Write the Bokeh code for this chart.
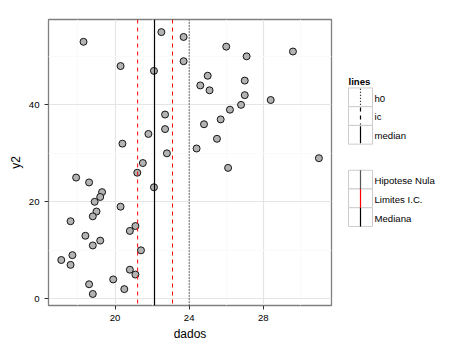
import numpy as np
from bokeh.plotting import figure
from bokeh.models import Range1d, FixedTicker, Span, ColumnDataSource
from bokeh.layouts import row
from bokeh.embed import file_html
from bokeh.resources import INLINE
from bokeh.core.properties import value

# ---------------- data ----------------
dados = [18.3, 22.5, 23.7, 23.7, 20.3, 22.1, 22.7, 22.7, 21.8, 20.4,
         22.8, 26.0, 27.1, 29.6, 25.0, 24.6, 25.1, 27.0, 27.0, 28.4,
         26.8, 26.2, 25.7, 24.8, 25.5, 24.4, 31.0, 26.1, 21.5, 21.2,
         17.9, 18.6, 22.1, 19.3, 19.2, 18.9, 20.3, 19.0, 18.8, 17.6,
         21.1, 20.8, 18.4, 19.2, 18.8, 21.4, 17.7, 17.1, 17.6, 20.8,
         21.1, 19.9, 18.6, 20.5, 18.8]
y2 = [53, 55, 54, 49, 48, 47, 38, 35, 34, 32,
      30, 52, 50, 51, 46, 44, 43, 45, 42, 41,
      40, 39, 37, 36, 33, 31, 29, 27, 28, 26,
      25, 24, 23, 22, 21, 20, 19, 18, 17, 16,
      15, 14, 13, 12, 11, 10, 9, 8, 7, 6,
      5, 4, 3, 2, 1]

median_value = 22.13
ic_values = [21.22, 23.10]
h0_value = 24.0

x_ticks = [20, 24, 28]
x_minor = [18, 22, 26, 30]
y_ticks = [0, 20, 40]
y_minor = [10, 30, 50]
x_label = "dados"
y_label = "y2"

legend1_title = "lines"
legend1_labels = ["h0", "ic", "median"]
legend2_labels = ["Hipotese Nula", "Limites I.C.", "Mediana"]

FONT = "Liberation Sans"

# ---------------- main plot ----------------
p = figure(width=333, height=351,
           x_range=Range1d(16.41, 31.68), y_range=Range1d(-1.38, 57.6),
           output_backend="svg", toolbar_location=None,
           min_border_left=48, min_border_right=2,
           min_border_top=19, min_border_bottom=46,
           background_fill_color="white", border_fill_color="white",
           outline_line_color="#7f7f7f", outline_line_width=1.3)

p.xaxis.ticker = FixedTicker(ticks=x_ticks, minor_ticks=x_minor)
p.yaxis.ticker = FixedTicker(ticks=y_ticks, minor_ticks=y_minor)

for g in (p.xgrid, p.ygrid):
    g.grid_line_color = "#e5e5e5"
    g.grid_line_width = 1.2
    g.minor_grid_line_color = "#fafafa"
    g.minor_grid_line_width = 1

for ax in (p.xaxis, p.yaxis):
    ax.axis_line_color = None
    ax.minor_tick_line_color = None
    ax.major_tick_line_color = "#333333"
    ax.major_tick_in = 0
    ax.major_tick_out = 4
    ax.major_label_standoff = 5
    ax.major_label_text_font = FONT
    ax.major_label_text_font_size = "9.6px"
    ax.major_label_text_color = "black"
    ax.axis_label_text_font = FONT
    ax.axis_label_text_font_size = "12px"
    ax.axis_label_text_font_style = "normal"
    ax.axis_label_text_color = "black"
    ax.axis_label_standoff = 3

p.xaxis.axis_label = x_label
p.yaxis.axis_label = y_label

p.add_layout(Span(location=h0_value, dimension="height", line_color="black",
                  line_dash="1 2", line_width=1))
for v in ic_values:
    p.add_layout(Span(location=v, dimension="height", line_color="red",
                      line_dash="4 4", line_width=1))
p.add_layout(Span(location=median_value, dimension="height", line_color="black",
                  line_width=1.2))

src = ColumnDataSource(dict(x=dados, y=y2))
p.scatter("x", "y", source=src, size=7, fill_color="#b3b3b3",
          line_color="black", line_width=0.9)

# ---------------- legends (separate panel) ----------------
L = figure(width=143, height=351, x_range=Range1d(0, 143), y_range=Range1d(351, 0),
           output_backend="svg", toolbar_location=None,
           x_axis_type=None, y_axis_type=None,
           min_border=0, outline_line_color=None,
           background_fill_color="white", border_fill_color="white")
L.xgrid.visible = False
L.ygrid.visible = False

key_x = 27
key_w = 24
key_h = 23
label_x = 41

# legend 1
top1 = 84
rows1 = [top1 + key_h * i for i in range(3)]
L.text(x=[15], y=[76.5], text=[legend1_title], text_font=value(FONT),
       text_font_size="9.6px", text_font_style="bold", text_baseline="middle",
       text_align="left", text_color="black")
L.rect(x=[key_x] * 3, y=[r + key_h / 2 for r in rows1], width=key_w, height=key_h,
       fill_color="white", line_color="#cccccc", line_width=1)
styles1 = [("1 2", "black"), ("4 4", "black"), ("solid", "black")]
for r, (dash, col) in zip(rows1, styles1):
    L.segment(x0=[key_x], y0=[r + 1], x1=[key_x], y1=[r + key_h - 1],
              line_color=col, line_dash=dash, line_width=1.2)
L.text(x=[label_x] * 3, y=[r + key_h / 2 + 1 for r in rows1], text=legend1_labels,
       text_font=value(FONT), text_font_size="9.6px", text_baseline="middle",
       text_align="left", text_color="black")

# legend 2
top2 = 185
rows2 = [top2 + key_h * i for i in range(3)]
L.rect(x=[key_x] * 3, y=[r + key_h / 2 for r in rows2], width=key_w, height=key_h,
       fill_color="white", line_color="#cccccc", line_width=1)
cols2 = ["#555555", "red", "black"]
for r, col in zip(rows2, cols2):
    L.segment(x0=[key_x], y0=[r], x1=[key_x], y1=[r + key_h],
              line_color=col, line_width=1.2)
L.text(x=[label_x] * 3, y=[r + key_h / 2 + 1.5 for r in rows2], text=legend2_labels,
       text_font=value(FONT), text_font_size="9.6px", text_baseline="middle",
       text_align="left", text_color="black")

layout = row(p, L, spacing=0)
open("out.html", "w").write(file_html(layout, INLINE))
